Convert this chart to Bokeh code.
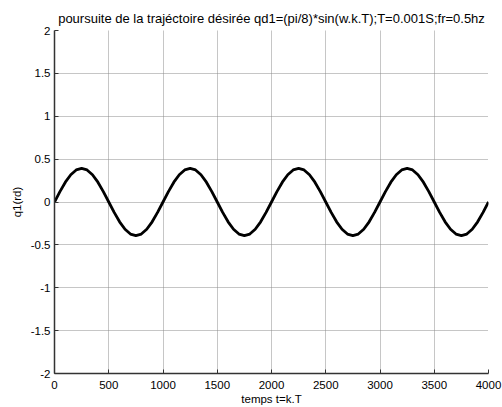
from bokeh.plotting import figure
from bokeh.models import Range1d, FixedTicker
from bokeh.embed import file_html
from bokeh.resources import INLINE

title_text = "poursuite de la trajéctoire désirée qd1=(pi/8)*sin(w.k.T);T=0.001S;fr=0.5hz"
x_label = "temps t=k.T"
y_label = "q1(rd)"
x_ticks = [0, 500, 1000, 1500, 2000, 2500, 3000, 3500, 4000]
y_ticks = [-2, -1.5, -1, -0.5, 0, 0.5, 1, 1.5, 2]
y_tick_labels = ["-2", "-1.5", "-1", "-0.5", "0", "0.5", "1", "1.5", "2"]

# sample index k (every 50 samples) and read values of q1
k = [0, 50, 100, 150, 200, 250, 300, 350, 400, 450,
     500, 550, 600, 650, 700, 750, 800, 850, 900, 950,
     1000, 1050, 1100, 1150, 1200, 1250, 1300, 1350, 1400, 1450,
     1500, 1550, 1600, 1650, 1700, 1750, 1800, 1850, 1900, 1950,
     2000, 2050, 2100, 2150, 2200, 2250, 2300, 2350, 2400, 2450,
     2500, 2550, 2600, 2650, 2700, 2750, 2800, 2850, 2900, 2950,
     3000, 3050, 3100, 3150, 3200, 3250, 3300, 3350, 3400, 3450,
     3500, 3550, 3600, 3650, 3700, 3750, 3800, 3850, 3900, 3950,
     4000]
q1 = [0.0, 0.121, 0.231, 0.318, 0.374, 0.393, 0.374, 0.318, 0.231, 0.121,
      0.0, -0.121, -0.231, -0.318, -0.374, -0.393, -0.374, -0.318, -0.231, -0.121,
      0.0, 0.121, 0.231, 0.318, 0.374, 0.393, 0.374, 0.318, 0.231, 0.121,
      0.0, -0.121, -0.231, -0.318, -0.374, -0.393, -0.374, -0.318, -0.231, -0.121,
      0.0, 0.121, 0.231, 0.318, 0.374, 0.393, 0.374, 0.318, 0.231, 0.121,
      0.0, -0.121, -0.231, -0.318, -0.374, -0.393, -0.374, -0.318, -0.231, -0.121,
      0.0, 0.121, 0.231, 0.318, 0.374, 0.393, 0.374, 0.318, 0.231, 0.121,
      0.0, -0.121, -0.231, -0.318, -0.374, -0.393, -0.374, -0.318, -0.231, -0.121,
      0.0]

FONT = "Liberation Sans"

p = figure(width=502, height=407, output_backend="svg", toolbar_location=None,
           x_range=Range1d(0, 4000), y_range=Range1d(-2, 2),
           title=title_text)
p.min_border_left = 54
p.min_border_right = 14
p.min_border_top = 30
p.min_border_bottom = 8
p.outline_line_color = None
p.background_fill_color = "white"
p.border_fill_color = "white"

p.title.text_font = FONT
p.title.text_font_size = "13px"
p.title.text_font_style = "normal"
p.title.text_color = "black"
p.title.align = "center"
p.title.offset = 0
p.title.standoff = 9

p.line(k, q1, line_color="black", line_width=2.8)

for ax in (p.xaxis[0], p.yaxis[0]):
    ax.major_label_text_font = FONT
    ax.major_label_text_font_size = "11.5px"
    ax.major_label_text_color = "black"
    ax.axis_label_text_font = FONT
    ax.axis_label_text_font_size = "11.5px"
    ax.axis_label_text_font_style = "normal"
    ax.axis_label_text_color = "black"
    ax.axis_line_color = "#333333"
    ax.axis_line_width = 1.5
    ax.major_tick_in = 4
    ax.major_tick_out = 0
    ax.major_tick_line_color = "#333333"
    ax.minor_tick_line_color = None

p.xaxis[0].ticker = FixedTicker(ticks=x_ticks)
p.yaxis[0].ticker = FixedTicker(ticks=y_ticks)
p.yaxis[0].major_label_overrides = {t: s for t, s in zip(y_ticks, y_tick_labels)}
p.xaxis[0].axis_label = x_label
p.yaxis[0].axis_label = y_label
p.xaxis[0].major_label_standoff = 7
p.yaxis[0].major_label_standoff = 4
p.xaxis[0].axis_label_standoff = 1
p.yaxis[0].axis_label_standoff = 5

for g in (p.xgrid[0], p.ygrid[0]):
    g.grid_line_color = "#8c8c8c"
    g.grid_line_dash = "1 1"
    g.grid_line_width = 1

open("out.html", "w").write(file_html(p, INLINE))
